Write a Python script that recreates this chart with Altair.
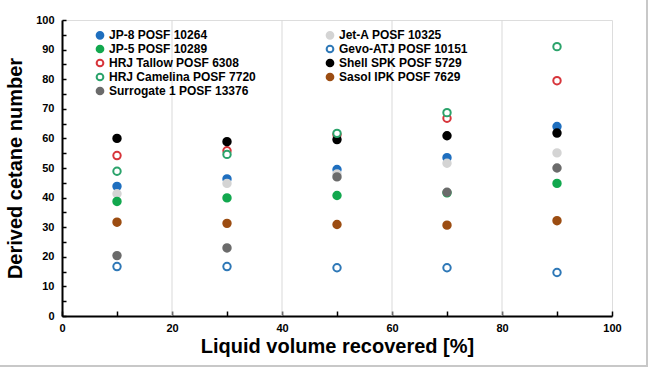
import altair as alt
import pandas as pd

# ---- data ----
x_vals = [10, 30, 50, 70, 90]
series = ["JP-8 POSF 10264", "Jet-A POSF 10325", "JP-5 POSF 10289", "Gevo-ATJ POSF 10151",
          "HRJ Tallow POSF 6308", "Shell SPK POSF 5729", "HRJ Camelina POSF 7720",
          "Sasol IPK POSF 7629", "Surrogate 1 POSF 13376"]
jp8 = [43.8, 46.3, 49.5, 53.5, 64.0]
jeta = [41.3, 44.8, 48.0, 51.6, 55.1]
jp5 = [38.7, 39.9, 40.7, 41.6, 44.8]
gevo = [16.7, 16.7, 16.3, 16.3, 14.7]
tallow = [54.2, 55.8, 61.2, 66.8, 79.5]
shell = [60.0, 58.9, 59.6, 60.9, 61.8]
camelina = [48.9, 54.6, 61.7, 68.7, 91.0]
sasol = [31.7, 31.3, 30.9, 30.7, 32.2]
surrogate = [20.4, 23.0, 47.0, 41.8, 50.0]
values = [jp8, jeta, jp5, gevo, tallow, shell, camelina, sasol, surrogate]

stroke_colors = ["#1f6fbf", "#d4d4d4", "#12a84e", "#2e78b7", "#d7353b",
                 "#000000", "#2ba36b", "#9c4d12", "#6b6b6b"]
fill_colors = ["#1f6fbf", "#d4d4d4", "#12a84e", "#ffffff", "#ffffff",
               "#000000", "#ffffff", "#9c4d12", "#6b6b6b"]
# legend is filled column by column
legend_order = [0, 2, 4, 6, 8, 1, 3, 5, 7]
grid_x = [20, 40, 60, 80]

rows = []
for i, (s, vals) in enumerate(zip(series, values)):
    for xv, yv in zip(x_vals, vals):
        rows.append({"series": s, "x": xv, "y": yv, "order": i})
df = pd.DataFrame(rows)
grid_df = pd.DataFrame({"gx": grid_x})

dom = [series[i] for i in legend_order]
stroke_rng = [stroke_colors[i] for i in legend_order]
fill_rng = [fill_colors[i] for i in legend_order]

FONT = "Liberation Sans"
xscale = alt.Scale(domain=[0, 100], nice=False, zero=False)
yscale = alt.Scale(domain=[0, 100], nice=False, zero=False)

legend_kw = dict(title=None, orient="none", legendX=32, legendY=9,
                 columns=2, columnPadding=66, rowPadding=-5,
                 labelFont=FONT, labelFontSize=12,
                 labelFontWeight="bold", labelColor="black",
                 symbolSize=45, symbolStrokeWidth=2, labelOffset=3)

# gridlines + inward ticks (axes drawn on the opposite side with negative offset)
grid = alt.Chart(grid_df).mark_rule(color="#d9d9d9", strokeWidth=1).encode(
    x=alt.X("gx:Q", scale=xscale,
            axis=alt.Axis(orient="top", offset=-296, values=list(range(0, 101, 10)),
                          labels=False, domain=False, grid=False, ticks=True,
                          tickSize=5, tickColor="black", tickWidth=1.5, title=None)),
    y=alt.value(0), y2=alt.value(296),
)
ytick_layer = alt.Chart(grid_df).mark_point(opacity=0).encode(
    x=alt.X("gx:Q", scale=xscale, axis=None),
    y=alt.Y("gx:Q", scale=yscale,
            axis=alt.Axis(orient="right", offset=-550, values=list(range(0, 101, 5)),
                          labels=False, domain=False, grid=False, ticks=True,
                          tickSize=4, tickColor="black", tickWidth=1.5, title=None)),
)

points = alt.Chart(df).mark_point(size=55, strokeWidth=2, opacity=1).encode(
    x=alt.X("x:Q", scale=xscale,
            axis=alt.Axis(orient="bottom", values=list(range(0, 101, 20)), ticks=False,
                          grid=False, domainColor="black", domainWidth=2,
                          labelFont=FONT, labelFontSize=11, labelFontWeight="bold",
                          labelColor="black", labelPadding=6, labelFlush=False,
                          title="Liquid volume recovered [%]", titleFont=FONT,
                          titleFontSize=20, titleFontWeight="bold", titleColor="black",
                          titlePadding=3)),
    y=alt.Y("y:Q", scale=yscale,
            axis=alt.Axis(orient="left", values=list(range(0, 101, 10)), ticks=False,
                          grid=False, domainColor="black", domainWidth=2,
                          labelFont=FONT, labelFontSize=11, labelFontWeight="bold",
                          labelColor="black", labelPadding=8, labelFlush=False,
                          title="Derived cetane number", titleFont=FONT,
                          titleFontSize=20, titleFontWeight="bold", titleColor="black",
                          titlePadding=10)),
    stroke=alt.Stroke("series:N", scale=alt.Scale(domain=dom, range=stroke_rng),
                      legend=alt.Legend(**legend_kw)),
    fill=alt.Fill("series:N", scale=alt.Scale(domain=dom, range=fill_rng),
                  legend=alt.Legend(**legend_kw)),
    order=alt.Order("order:Q"),
)

border = alt.Chart(grid_df).mark_rule(color="#c8c8c8", strokeWidth=2).encode(
    x=alt.value(585), x2=alt.value(585), y=alt.value(-25), y2=alt.value(346),
)
border2 = alt.Chart(grid_df).mark_rule(color="#c8c8c8", strokeWidth=2).encode(
    x=alt.value(-62), x2=alt.value(586), y=alt.value(346), y2=alt.value(346),
)

chart = alt.layer(grid, ytick_layer, points, border, border2).resolve_axis(
    x="independent", y="independent"
).properties(
    width=550, height=296,
    padding={"left": 62, "top": 20, "right": 38, "bottom": 53},
    autosize=alt.AutoSizeParams(type="none"),
).configure_view(
    stroke="black", strokeWidth=1.5
).configure(background="white")

chart.save("out.html", embed_options={"renderer": "svg", "actions": False})
